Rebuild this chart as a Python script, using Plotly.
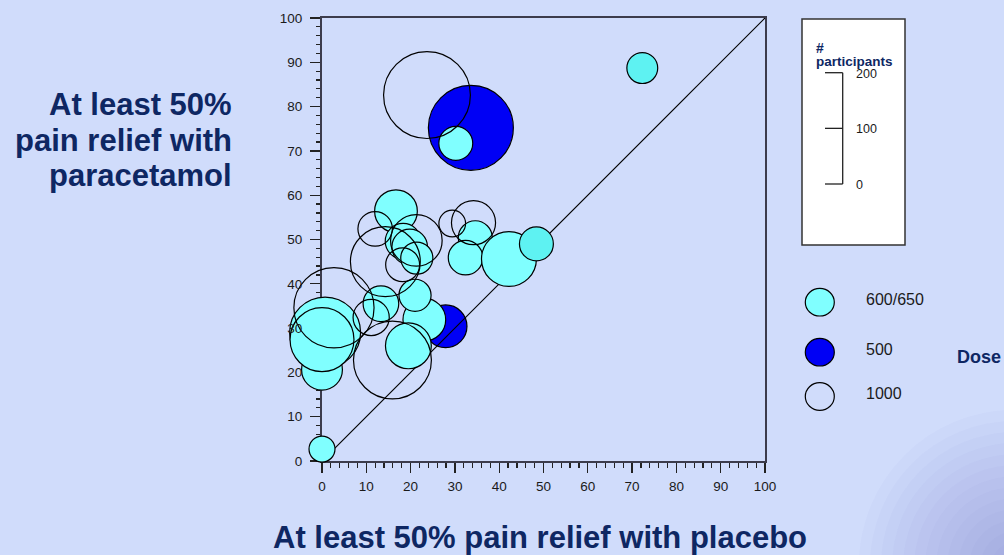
import math
import plotly.graph_objects as go

# ---------------- data ----------------
# dose 600/650 mg (cyan)
cyan_placebo = [0.0, 0.0, 0.7, 0.0, 13.3, 23.1, 21.0, 19.5, 16.7, 18.3, 19.8, 21.4, 34.6, 32.4, 42.2, 48.4, 30.2, 72.3]
cyan_paracetamol = [2.7, 20.6, 29.0, 27.4, 35.5, 31.9, 37.4, 26.0, 56.4, 49.6, 48.3, 45.8, 50.4, 45.9, 45.6, 49.0, 71.7, 88.7]
cyan_participants = [17, 42, 127, 103, 32, 46, 26, 53, 46, 32, 32, 26, 29, 30, 76, 29, 29, 24]
cyan_dose = ["600", "600", "600", "600", "600", "600", "600", "600", "600", "600",
             "600", "600", "600", "600", "600", "650", "600", "650"]
# dose 500 mg (blue)
blue_placebo = [27.9, 33.6]
blue_paracetamol = [30.4, 75.2]
blue_participants = [46, 182]
# dose 1000 mg (open)
open_placebo = [2.7, 11.1, 15.9, 14.3, 12.0, 21.3, 18.2, 29.4, 34.2, 23.7]
open_paracetamol = [34.6, 32.4, 22.8, 45.0, 52.4, 49.8, 44.3, 53.6, 53.8, 82.6]
open_participants = [162, 33, 153, 123, 30, 67, 29, 18, 49, 190]

dose_labels = ["600/650", "500", "1000"]
size_scale_ticks = [0, 100, 200]
axis_range = [0, 100]

# ---------------- layout constants ----------------
FIG_W, FIG_H = 1004, 555
L, R, T, B = 322, 239, 18, 94
PW = FIG_W - L - R
PH = FIG_H - T - B
BG = "#D0DCFB"
NAVY = "#0e2763"
FONT = "Liberation Sans, Arial, sans-serif"
CYAN = "#80FFFF"
CYAN_H = "#5EF2F2"
BLUE = "#0000F5"
SIZE_K = 0.711  # bubble radius (axis units) per sqrt(participant)


def xp(px):
    return (px - L) / PW


def yp(py):
    return (FIG_H - B - py) / PH


def diam(ns):
    return [2 * SIZE_K * math.sqrt(n) * PW / 100.0 for n in ns]


fig = go.Figure()

line_style = dict(color="black", width=1.2)

# 500 mg first (drawn below the diagonal line)
fig.add_trace(go.Scatter(
    x=blue_placebo, y=blue_paracetamol, mode="markers",
    marker=dict(size=diam(blue_participants), sizemode="diameter", color=BLUE, line=line_style, opacity=1),
    cliponaxis=False, showlegend=False, hoverinfo="skip"))

# line of equality
fig.add_trace(go.Scatter(
    x=axis_range, y=axis_range, mode="lines", line=dict(color="black", width=1.2),
    cliponaxis=True, showlegend=False, hoverinfo="skip"))

# 600/650 mg
fig.add_trace(go.Scatter(
    x=cyan_placebo, y=cyan_paracetamol, mode="markers",
    marker=dict(size=diam(cyan_participants), sizemode="diameter",
                color=[CYAN if d == "600" else CYAN_H for d in cyan_dose], line=line_style, opacity=1),
    cliponaxis=False, showlegend=False, hoverinfo="skip"))

# 1000 mg (open)
fig.add_trace(go.Scatter(
    x=open_placebo, y=open_paracetamol, mode="markers",
    marker=dict(size=diam(open_participants), sizemode="diameter",
                color="rgba(0,0,0,0)", line=line_style, opacity=1),
    cliponaxis=False, showlegend=False, hoverinfo="skip"))

# dummy trace for label overlay axis
fig.add_trace(go.Scatter(x=[0], y=[0], yaxis="y2", mode="markers",
                         marker=dict(opacity=0), showlegend=False, hoverinfo="skip"))

tickfont = dict(family=FONT, size=13.5, color="#1a1a1a")
axis_common = dict(
    range=axis_range, dtick=10, tick0=0, showgrid=False, zeroline=False,
    showline=True, linecolor="#3c3c4c", linewidth=2, mirror=True,
    ticks="outside", ticklen=10, tickwidth=1.3, tickcolor="#222222",
    minor=dict(dtick=2, ticks="outside", ticklen=4.5, tickwidth=1.2, tickcolor="#222222"),
    tickfont=tickfont, layer="below traces", fixedrange=True, automargin=False,
)

fig.update_layout(
    width=FIG_W, height=FIG_H,
    margin=dict(l=L, r=R, t=T, b=B, pad=0),
    paper_bgcolor=BG, plot_bgcolor=BG,
    template="none",
    showlegend=False,
    xaxis=dict(**axis_common, ticklabelstandoff=2),
    yaxis=dict(**axis_common, showticklabels=False),
    yaxis2=dict(overlaying="y", anchor="x", side="left", range=axis_range, dtick=10, tick0=0,
                showgrid=False, zeroline=False, showline=False, ticks="outside", ticklen=10,
                tickcolor="rgba(0,0,0,0)", tickfont=tickfont, ticklabelstandoff=6,
                fixedrange=True, automargin=False),
)

shapes = []
# soft corner shading (bottom-right)
n_rings = 14
for i in range(n_rings):
    rad = 155 * (1 - i / n_rings)
    shapes.append(dict(type="circle", xref="paper", yref="paper", layer="below",
                       x0=xp(FIG_W + 10 - rad), x1=xp(FIG_W + 10 + rad),
                       y0=yp(FIG_H + 10 + rad), y1=yp(FIG_H + 10 - rad),
                       fillcolor="rgba(100,100,190,0.037)", line=dict(width=0)))

# size-key box
shapes.append(dict(type="rect", xref="paper", yref="paper", x0=xp(802), x1=xp(905), y0=yp(245), y1=yp(19),
                   fillcolor="white", line=dict(color="#333333", width=1.5)))
scale_top, scale_bot = 72.7, 184.0
shapes.append(dict(type="line", xref="paper", yref="paper", x0=xp(842.7), x1=xp(842.7),
                   y0=yp(scale_bot), y1=yp(scale_top), line=dict(color="#222222", width=1.3)))
annotations = []
for v in size_scale_ticks:
    py = scale_bot - (scale_bot - scale_top) * v / max(size_scale_ticks)
    shapes.append(dict(type="line", xref="paper", yref="paper", x0=xp(825), x1=xp(842.7),
                       y0=yp(py), y1=yp(py), line=dict(color="#222222", width=1.3)))
    annotations.append(dict(text=str(v), xref="paper", yref="paper", x=xp(853.5), y=yp(py + 1),
                            xanchor="left", yanchor="middle", showarrow=False,
                            font=dict(family=FONT, size=12.5, color="#1a1a1a")))
annotations.append(dict(text="<b>#</b>", xref="paper", yref="paper", x=xp(814), y=yp(47.5),
                        xanchor="left", yanchor="middle", showarrow=False,
                        font=dict(family=FONT, size=14, color=NAVY)))
annotations.append(dict(text="<b>participants</b>", xref="paper", yref="paper", x=xp(814), y=yp(61.5),
                        xanchor="left", yanchor="middle", showarrow=False,
                        font=dict(family=FONT, size=13.5, color=NAVY)))

# dose key
key_y = [302.2, 352.2, 396.5]
key_fill = [CYAN, BLUE, "rgba(0,0,0,0)"]
for lab, ky, kf in zip(dose_labels, key_y, key_fill):
    shapes.append(dict(type="circle", xref="paper", yref="paper", x0=xp(805.3), x1=xp(834.3),
                       y0=yp(ky + 13.8), y1=yp(ky - 13.8), fillcolor=kf,
                       line=dict(color="black", width=1.2)))
    annotations.append(dict(text=lab, xref="paper", yref="paper", x=xp(864), y=yp(ky - 3),
                            xanchor="left", yanchor="middle", showarrow=False,
                            font=dict(family=FONT, size=16, color="#1a1a1a")))
annotations.append(dict(text="<b>Dose</b>", xref="paper", yref="paper", x=xp(955), y=yp(356.7),
                        xanchor="left", yanchor="middle", showarrow=False,
                        font=dict(family=FONT, size=18, color=NAVY)))

# axis titles
ytitle_lines = ["At least 50%", "pain relief with", "paracetamol"]
for line, cy in zip(ytitle_lines, [105.0, 140.3, 175.5]):
    annotations.append(dict(text="<b>" + line + "</b>", xref="paper", yref="paper", x=xp(233.5), y=yp(cy),
                            xanchor="right", yanchor="middle", showarrow=False,
                            font=dict(family=FONT, size=31, color=NAVY)))
annotations.append(dict(text="<b>At least 50% pain relief with placebo</b>", xref="paper", yref="paper",
                        x=xp(540), y=yp(537.3), xanchor="center", yanchor="middle", showarrow=False,
                        font=dict(family=FONT, size=31, color=NAVY)))

fig.update_layout(shapes=shapes, annotations=annotations)
fig.write_html("out.html",
               config={"displayModeBar": False, "staticPlot": True},
               post_script="document.body.style.margin='0px';document.body.style.overflow='hidden';")
